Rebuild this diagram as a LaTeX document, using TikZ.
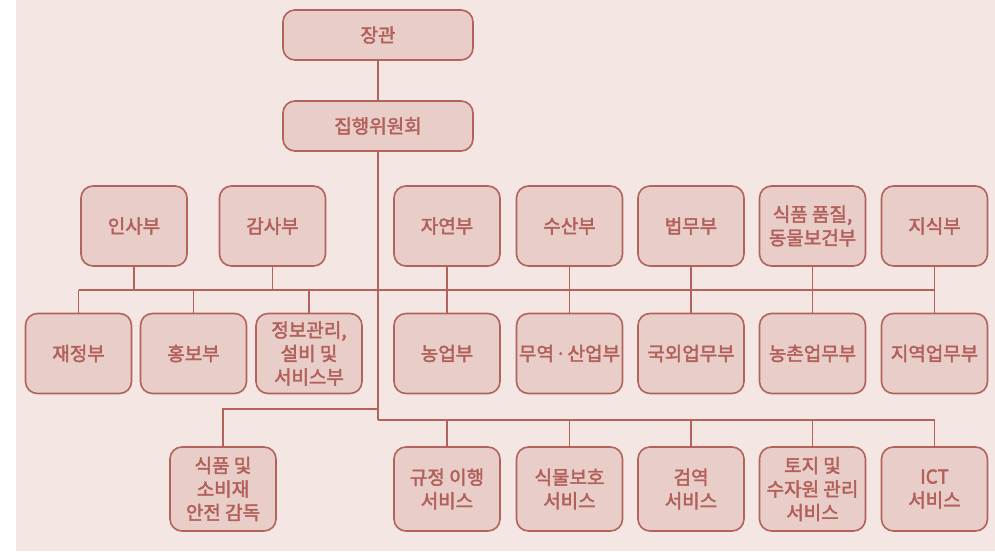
\documentclass[tikz,border=0pt]{standalone}
\usepackage{fontspec}
\setmainfont{Noto Sans CJK KR}[FakeBold=2.2]
\definecolor{bgc}{HTML}{F3E6E3}
\definecolor{boxc}{HTML}{E8CDC8}
\definecolor{linec}{HTML}{B3625C}
\definecolor{txtc}{HTML}{B2605A}
\tikzset{
  org/.style={draw=linec, fill=boxc, line width=1.6pt, rounded corners=12pt,
    minimum width=106pt, minimum height=80pt, inner sep=0pt, align=center,
    text=txtc, font=\fontsize{19}{23.5}\selectfont},
  wide/.style={org, minimum width=190pt, minimum height=50pt},
  tall/.style={org, minimum height=84pt},
  conn/.style={draw=linec, line width=1.5pt}
}
\begin{document}
\begin{tikzpicture}[x=1pt,y=-1pt]
\useasboundingbox (0,0) rectangle (995,551);
\fill[bgc] (16,0) rectangle (995,551);
% top
\node[wide] (jang) at (378,35) {장관};
\node[wide] (exec) at (378,126) {집행위원회};
% row 1
\node[org] (insa) at (134,226) {인사부};
\node[org] (gamsa) at (272.5,226) {감사부};
\node[org] (jayeon) at (447,226) {자연부};
\node[org] (susan) at (569.5,226) {수산부};
\node[org] (beopmu) at (691,226) {법무부};
\node[org] (sikpumq) at (812.5,226) {식품 품질,\\동물보건부};
\node[org] (jisik) at (934.5,226) {지식부};
% row 2
\node[org] (jaejeong) at (78.5,353.5) {재정부};
\node[org] (hongbo) at (193.5,353.5) {홍보부};
\node[org] (jeongbo) at (309,353.5) {정보관리,\\설비 및\\서비스부};
\node[org] (nongeop) at (447,353.5) {농업부};
\node[org] (muyeok) at (569.5,353.5) {무역\hspace{1.5pt}·\hspace{1.5pt}산업부};
\node[org] (gugoe) at (691,353.5) {국외업무부};
\node[org] (nongchon) at (812.5,353.5) {농촌업무부};
\node[org] (jiyeok) at (934.5,353.5) {지역업무부};
% row 3
\node[tall] (sobi) at (223,489) {식품 및\\소비재\\안전 감독};
\node[tall] (gyujeong) at (447,489) {규정 이행\\서비스};
\node[tall] (sikmul) at (569.5,489) {식물보호\\서비스};
\node[tall] (geomyeok) at (691,489) {검역\\서비스};
\node[tall] (toji) at (812.5,489) {토지 및\\수자원 관리\\서비스};
\node[tall] (ict) at (934.5,489) {ICT\\서비스};
% bus coordinates
\coordinate (busA) at (378,290);
\coordinate (busB) at (378,409);
\coordinate (busC) at (378,420);
% connectors
\draw[conn] (jang) -- (exec);
\draw[conn] (exec.south) -- (busC);
\draw[conn] (jaejeong.north |- busA) -- (jisik.south |- busA);
\foreach \n in {insa,gamsa,jayeon,susan,beopmu,sikpumq,jisik}
  \draw[conn] (\n.south) -- (\n.south |- busA);
\foreach \n in {jaejeong,hongbo,jeongbo,nongeop,muyeok,gugoe,nongchon,jiyeok}
  \draw[conn] (\n.north) -- (\n.north |- busA);
\draw[conn] (busB) -| (sobi.north);
\draw[conn] (busC) -- (ict.north |- busC);
\foreach \n in {gyujeong,sikmul,geomyeok,toji,ict}
  \draw[conn] (\n.north) -- (\n.north |- busC);
\end{tikzpicture}
\end{document}
